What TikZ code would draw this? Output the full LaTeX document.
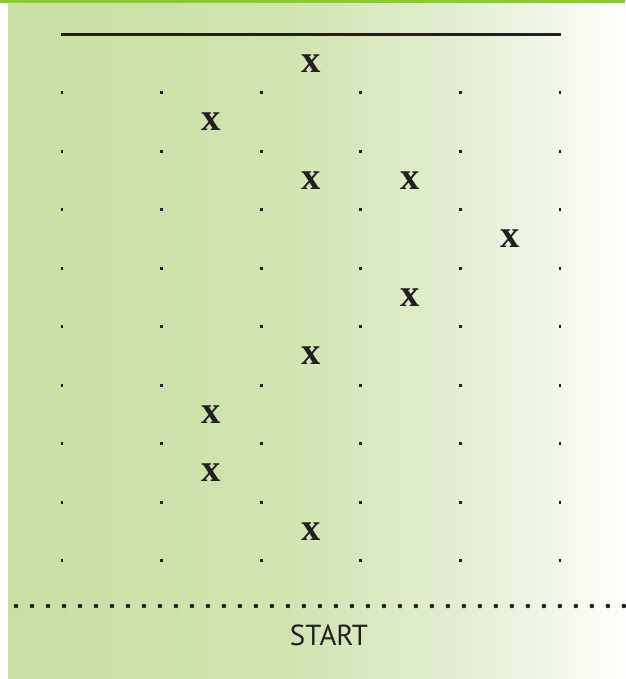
\documentclass[tikz,border=0pt]{standalone}
\usepackage{fontspec}
\usepackage{tikz}
\newfontfamily\labelfont{PT Sans}
\newfontfamily\markfont{Liberation Serif}
\definecolor{inkgray}{RGB}{35, 31, 32}
\definecolor{topgreen}{RGB}{141, 198, 63}
\definecolor{bgA}{RGB}{201, 224, 164}
\definecolor{bgB}{RGB}{208, 228, 176}
\definecolor{bgC}{RGB}{228, 239, 211}
\definecolor{bgD}{RGB}{253, 254, 251}
\pgfdeclarehorizontalshading{bgfade}{100bp}{color(0bp)=(bgA); color(25bp)=(bgA); color(47.5bp)=(bgB); color(62.5bp)=(bgC); color(75bp)=(bgD); color(100bp)=(bgD)}

\begin{document}
\begin{tikzpicture}[
      x=0.02cm, y=-0.02cm,
      gdot/.style={fill=inkgray, inner sep=0pt,
                   minimum width=0.055cm, minimum height=0.055cm},
      xmark/.style={font=\markfont\bfseries\fontsize{22}{22}\selectfont,
                    text=inkgray, inner sep=0pt},
      rule/.style={draw=inkgray, line width=1.5pt},
      dotline/.style={draw=inkgray, line width=2.6pt, line cap=round,
                      dash pattern=on 0pt off 0.32cm},
      lbl/.style={font=\labelfont\fontsize{16.5}{16.5}\selectfont, text=inkgray},
    ]
    \def\cw{99.6}
    \def\rh{58.5}
    %% background
    \useasboundingbox (0,0) rectangle (625,679);
    \fill[white] (0,0) rectangle (625,679);
    \shade[shading=bgfade] (8,3) rectangle (625,679);
    \fill[topgreen] (0,0) rectangle (625,3);
    %% top rule
    \coordinate (tl) at (61,34.3);
    \coordinate (tr) at (560.7,34.3);
    \draw[rule] (tl) -- (tr);
    %% 9x6 grid of dots
    \foreach \r in {0,...,8}{
      \foreach \c in {0,...,5}{
        \node[gdot] (g\r-\c) at (62+\c*\cw, 92.7+\r*\rh) {};
      }
    }
    %% x marks (row/column), sitting between the dots
    \foreach \r/\c [count=\i] in {0/2,1/1,2/2,2/3,3/4,4/3,5/2,6/1,7/1,8/2}{
      \node[xmark] (x\i) at (62+\c*\cw+0.5*\cw, 92.7+\r*\rh-0.5*\rh) {x};
    }
    %% dotted separator
    \coordinate (dl) at (16,606);
    \coordinate (dr) at (625,606);
    \draw[dotline] (dl) -- (dr);
    %% label
    \node[lbl] (start) at (329,635) {START};
    \end{tikzpicture}
\end{document}
